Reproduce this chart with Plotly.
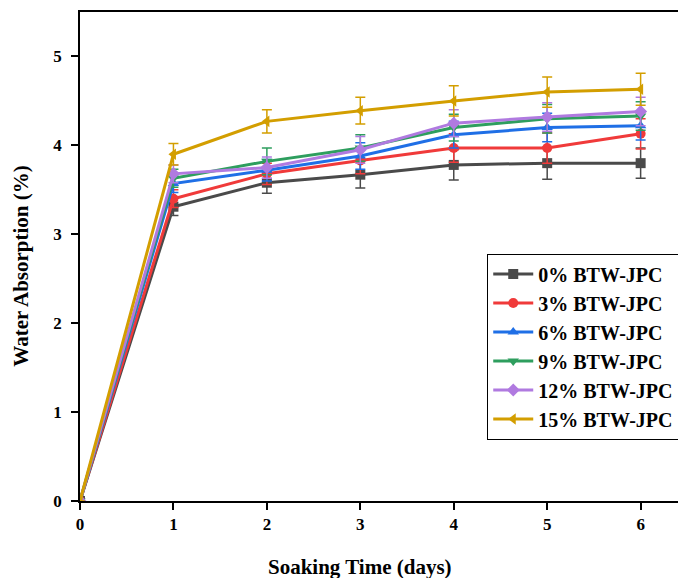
import plotly.graph_objects as go

days = [0, 1, 2, 3, 4, 5, 6]

names = ["0% BTW-JPC", "3% BTW-JPC", "6% BTW-JPC", "9% BTW-JPC", "12% BTW-JPC", "15% BTW-JPC"]

wa_0 = [0, 3.31, 3.58, 3.67, 3.78, 3.80, 3.80]
wa_3 = [0, 3.40, 3.68, 3.83, 3.97, 3.97, 4.13]
wa_6 = [0, 3.57, 3.72, 3.88, 4.12, 4.20, 4.22]
wa_9 = [0, 3.63, 3.82, 3.97, 4.20, 4.30, 4.33]
wa_12 = [0, 3.68, 3.75, 3.95, 4.25, 4.32, 4.38]
wa_15 = [0, 3.90, 4.27, 4.39, 4.50, 4.60, 4.63]

err_0 = [0, 0.10, 0.12, 0.15, 0.17, 0.18, 0.17]
err_3 = [0, 0.10, 0.12, 0.15, 0.16, 0.17, 0.17]
err_6 = [0, 0.10, 0.12, 0.15, 0.15, 0.16, 0.16]
err_9 = [0, 0.10, 0.15, 0.15, 0.15, 0.16, 0.16]
err_12 = [0, 0.10, 0.12, 0.15, 0.15, 0.16, 0.16]
err_15 = [0, 0.12, 0.13, 0.15, 0.17, 0.17, 0.18]

series = [wa_0, wa_3, wa_6, wa_9, wa_12, wa_15]
errors = [err_0, err_3, err_6, err_9, err_12, err_15]
colors = ["#4a4a4a", "#f03a3a", "#1f6fe6", "#2e9e5e", "#b07ae0", "#d39e00"]
symbols = ["square", "circle", "triangle-up", "triangle-down", "diamond", "triangle-left"]

fig = go.Figure()
for name, y, e, c, s in zip(names, series, errors, colors, symbols):
    fig.add_trace(go.Scatter(
        x=days, y=y, name=name, mode="lines+markers",
        line=dict(color=c, width=3),
        marker=dict(symbol=s, size=10, color=c),
        error_y=dict(type="data", array=e, color=c, thickness=1.5, width=5),
    ))

serif = "Liberation Serif, Times New Roman, serif"

fig.update_layout(
    width=678, height=578,
    margin=dict(l=80, r=0, t=12, b=77, autoexpand=False),
    paper_bgcolor="white", plot_bgcolor="white",
    font=dict(family=serif, color="black", size=16),
    showlegend=True,
    legend=dict(
        x=0.681, y=0.506, xanchor="left", yanchor="top",
        bordercolor="black", borderwidth=1, bgcolor="white",
        font=dict(family=serif, size=20, color="black", weight="bold"),
        tracegroupgap=0, itemwidth=40,
    ),
    xaxis=dict(
        range=[0, 6.4], tickvals=[0, 1, 2, 3, 4, 5, 6],
        showgrid=False, zeroline=False,
        showline=True, linecolor="black", linewidth=1.5, mirror=True,
        ticks="outside", ticklen=7, tickcolor="black", tickwidth=1.5,
        tickfont=dict(family=serif, size=17, weight="bold"),
    ),
    yaxis=dict(
        range=[0, 5.5], tickvals=[0, 1, 2, 3, 4, 5],
        showgrid=False, zeroline=False,
        showline=True, linecolor="black", linewidth=1.5,
        ticks="outside", ticklen=7, tickcolor="black", tickwidth=1.5,
        ticklabelstandoff=6,
        tickfont=dict(family=serif, size=17, weight="bold"),
    ),
    annotations=[
        dict(text="Soaking Time (days)", xref="paper", yref="paper", x=0.468, y=-0.106,
             xanchor="center", yanchor="top", showarrow=False,
             font=dict(family=serif, size=21, weight="bold")),
        dict(text="Water Absorption (%)", xref="paper", yref="paper", x=-0.098, y=0.48,
             xanchor="center", yanchor="middle", showarrow=False, textangle=-90,
             font=dict(family=serif, size=21, weight="bold")),
    ],
)

# drop the default page margin so the figure fills the window exactly
fig.write_html("out.html", config={"displayModeBar": False},
               post_script="document.body.style.margin='0';document.body.style.overflow='hidden';")
